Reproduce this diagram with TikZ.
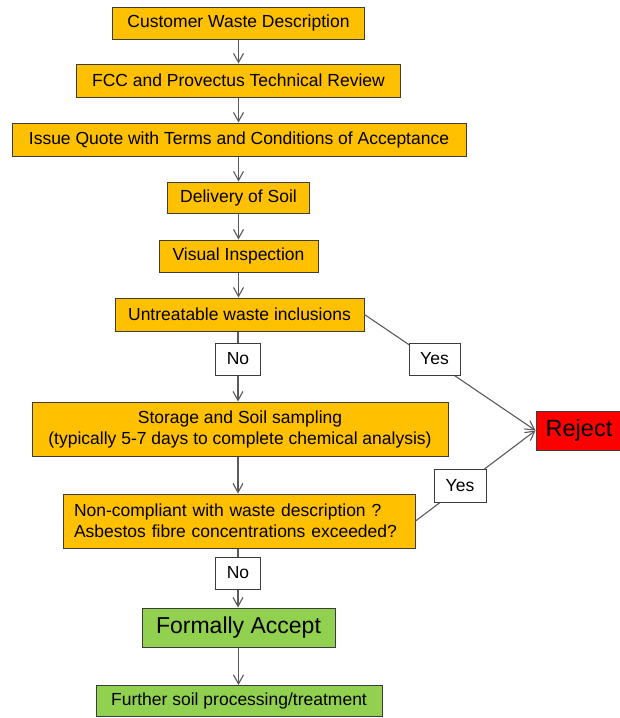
\documentclass[tikz,border=0pt]{standalone}
\usepackage{fontspec}
\setmainfont{Liberation Sans}
\usetikzlibrary{arrows.meta}
\definecolor{orangebox}{HTML}{FFC000}
\definecolor{greenbox}{HTML}{92D050}
\definecolor{redbox}{HTML}{FF0000}
\definecolor{linegray}{HTML}{5A5A5A}
\definecolor{edgegray}{HTML}{3C3C3C}
\begin{document}
\begin{tikzpicture}[x=1pt,y=-1pt,
  every node/.style={font=\fontsize{17.5}{21}\selectfont},
  stepbox/.style={draw=edgegray, line width=1pt, fill=orangebox, inner sep=0pt, align=center},
  greenstep/.style={stepbox, fill=greenbox},
  lbl/.style={draw=edgegray, fill=white, line width=1pt, inner sep=0pt, minimum height=32pt},
  conn/.style={draw=linegray, line width=1.1pt},
  arr/.style={conn, -{Straight Barb[length=9pt,width=10pt]}}
]
\useasboundingbox (0,0) rectangle (620,718);

\node[stepbox, minimum width=252pt, minimum height=32pt] (b1) at (238.5,23) {Customer Waste Description};
\node[stepbox, minimum width=324pt, minimum height=33pt] (b2) at (238.5,80.5) {FCC and Provectus Technical Review};
\node[stepbox, minimum width=454pt, minimum height=33pt] (b3) at (239,139.5) {Issue Quote with Terms and Conditions of Acceptance};
\node[stepbox, minimum width=142pt, minimum height=31pt] (b4) at (238.5,197.5) {Delivery of Soil};
\node[stepbox, minimum width=159pt, minimum height=32pt] (b5) at (238.5,256) {Visual Inspection};
\node[stepbox, minimum width=249pt, minimum height=33pt] (b6) at (239.5,314.5) {Untreatable waste inclusions};
\node[stepbox, minimum width=416pt, minimum height=54pt] (b7) at (240,429) {Storage and Soil sampling\\(typically 5-7 days to complete chemical analysis)};
\node[stepbox, minimum width=352pt, minimum height=54pt, align=left, text width=330pt] (b8) at (239,521) {Non-compliant with waste description ?\\Asbestos fibre concentrations exceeded?};
\node[draw=edgegray, line width=1pt, fill=redbox, inner sep=0pt, minimum width=86pt, minimum height=39pt, font=\fontsize{23.5}{26}\selectfont] (rej) at (579,430.5) {Reject};
\node[greenstep, minimum width=193pt, minimum height=39pt, font=\fontsize{23}{26}\selectfont] (acc) at (238.5,627.5) {Formally Accept};
\node[greenstep, minimum width=286pt, minimum height=31pt] (b9) at (239,701) {Further soil processing/treatment};

\node[lbl, minimum width=45pt] (no1) at (238,359) {No};
\node[lbl, minimum width=45pt] (no2) at (238,573) {No};

\draw[arr] (b1.south) -- (b1.south |- b2.north);
\draw[arr] (b2.south) -- (b2.south |- b3.north);
\draw[arr] (b4.north |- b3.south) -- (b4.north);
\draw[arr] (b4.south) -- (b4.south |- b5.north);
\draw[arr] (b5.south) -- (b5.south |- b6.north);
\draw[conn] (no1.north |- b6.south) -- (no1.north);
\draw[arr] (no1.south) -- (no1.south |- b7.north);
\draw[arr] (no1.south |- b7.south) -- (no1.south |- b8.north);
\draw[conn] (no2.north |- b8.south) -- (no2.north);
\draw[arr] (no2.south) -- (no2.south |- acc.north);
\draw[arr] (acc.south) -- (acc.south |- b9.north);

\draw[arr] (b6.east) -- (rej.west);
\draw[arr] (b8.east) -- (rej.west);
\node[lbl, minimum width=51pt] (yes1) at (434.5,359) {Yes};
\node[lbl, minimum width=52pt, minimum height=33pt] (yes2) at (460,485.5) {Yes};
\end{tikzpicture}
\end{document}
